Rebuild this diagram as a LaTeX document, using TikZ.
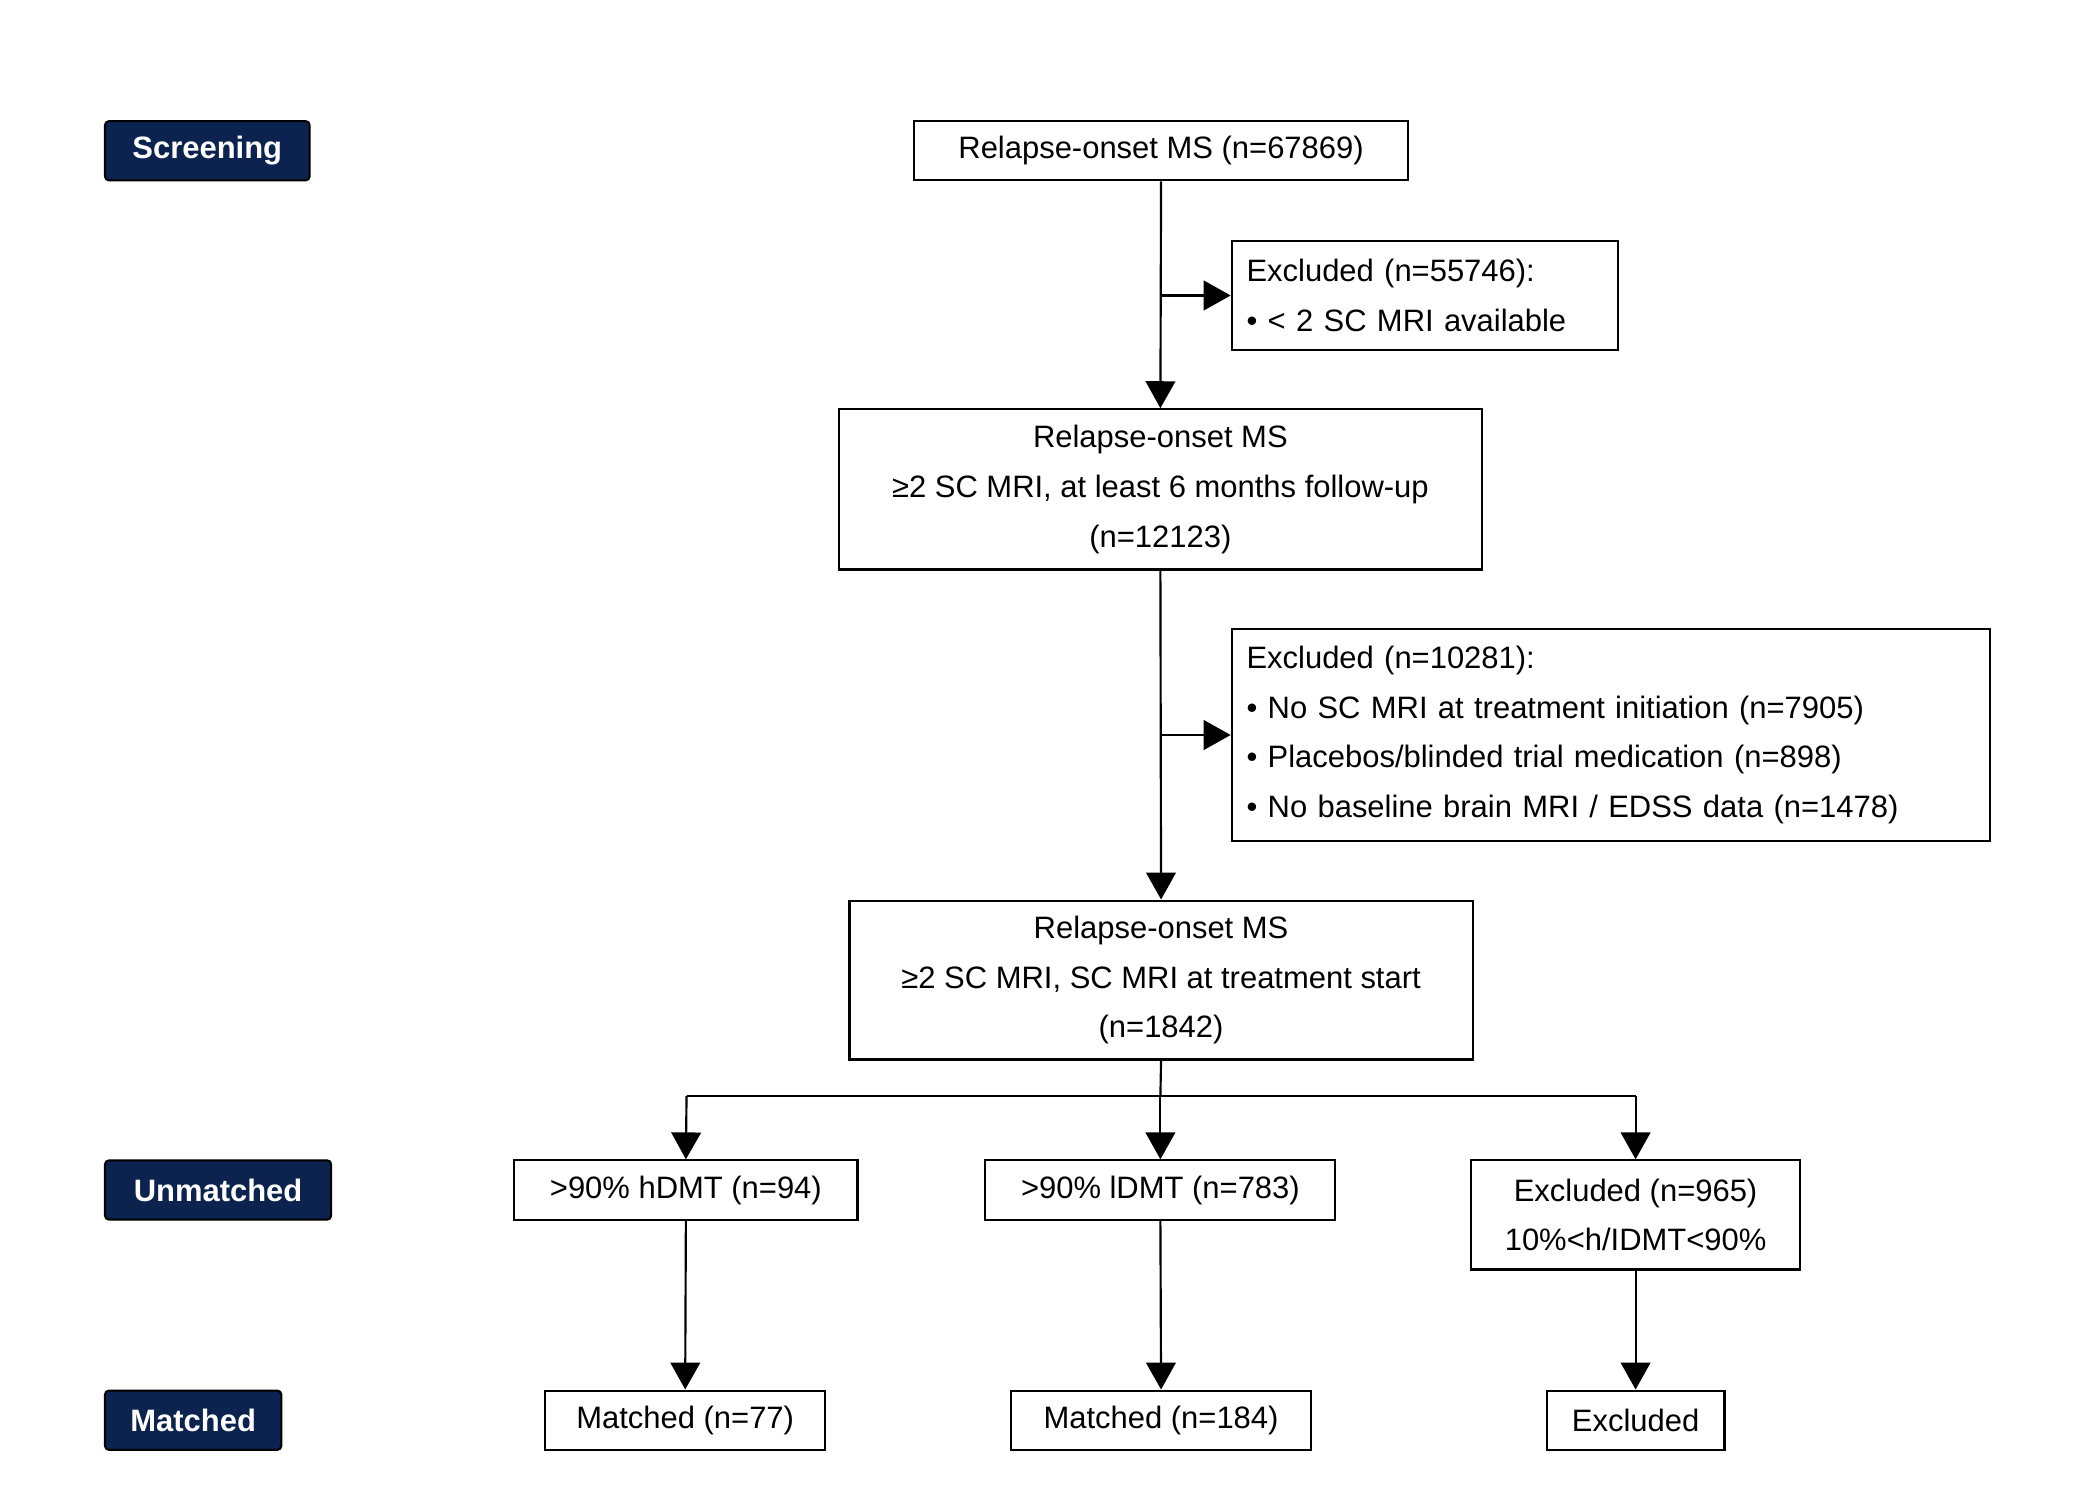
\documentclass[tikz,border=0pt]{standalone}
\usepackage{fontspec}
\setmainfont{Liberation Sans}
\usetikzlibrary{arrows.meta}
\definecolor{navy}{HTML}{0C2350}
\begin{document}
\begin{tikzpicture}[x=1pt,y=-1pt,
  box/.style={draw,line width=1.6pt,inner sep=0pt,align=center,font=\fontsize{23}{37}\selectfont},
  lab/.style={draw=black,fill=navy,text=white,line width=1.6pt,rounded corners=3pt,inner sep=0pt,font=\fontsize{23}{28}\selectfont\bfseries},
  arr/.style={line width=1.6pt,-{Triangle[width=22pt,length=20pt]}},
  ln/.style={line width=1.6pt}]
\useasboundingbox (0,0) rectangle (1560,1114);
\node[lab,minimum width=152pt,minimum height=44pt] (scr) at (154,112) {Screening};
\node[lab,minimum width=168pt,minimum height=44pt] (unm) at (162,884) {Unmatched};
\node[lab,minimum width=131pt,minimum height=44pt] (mat) at (143.5,1055) {Matched};

\node[box,minimum width=367pt,minimum height=44pt] (b1) at (862.5,112) {Relapse-onset MS (n=67869)};
\node[box,minimum width=287pt,minimum height=81pt,align=left,text width=265pt] (e1) at (1058.5,219.5) {Excluded (n=55746):\\\textbullet\ < 2 SC MRI available};
\node[box,minimum width=478pt,minimum height=119pt] (b2) at (862,363.5) {Relapse-onset MS\\≥2 SC MRI, at least 6 months follow-up\\(n=12123)};
\node[box,minimum width=563pt,minimum height=158pt,align=left,text width=541pt] (e2) at (1196.5,546) {Excluded (n=10281):\\\textbullet\ No SC MRI at treatment initiation (n=7905)\\\textbullet\ Placebos/blinded trial medication (n=898)\\\textbullet\ No baseline brain MRI / EDSS data (n=1478)};
\node[box,minimum width=463pt,minimum height=118pt] (b3) at (862.5,728) {Relapse-onset MS\\≥2 SC MRI, SC MRI at treatment start\\(n=1842)};
\node[box,minimum width=255pt,minimum height=44pt] (h) at (509.5,884) {>90\% hDMT (n=94)};
\node[box,minimum width=260pt,minimum height=44pt] (l) at (862,884) {>90\% lDMT (n=783)};
\node[box,minimum width=244pt,minimum height=81pt] (e3) at (1215,902.5) {Excluded (n=965)\\10\%<h/IDMT<90\%};
\node[box,minimum width=208pt,minimum height=44pt] (m1) at (509,1055) {Matched (n=77)};
\node[box,minimum width=223pt,minimum height=44pt] (m2) at (862.5,1055) {Matched (n=184)};
\node[box,minimum width=132pt,minimum height=44pt] (m3) at (1215,1055) {Excluded};

\coordinate (j1) at (862,219.5);
\coordinate (j2) at (862,546);
\coordinate (s) at (862,814);
\coordinate (sl) at (510,814);
\coordinate (sr) at (1215,814);
\draw[arr] (b1.south) -- (b2.north);
\draw[arr] (j1) -- (e1.west);
\draw[arr] (b2.south) -- (b3.north);
\draw[arr] (j2) -- (e2.west);
\draw[ln] (b3.south) -- (s);
\draw[ln] (sl) -- (sr);
\draw[arr] (sl) -- (h.north);
\draw[arr] (s) -- (l.north);
\draw[arr] (sr) -- (e3.north);
\draw[arr] (h.south) -- (m1.north);
\draw[arr] (l.south) -- (m2.north);
\draw[arr] (e3.south) -- (m3.north);
\end{tikzpicture}
\end{document}
